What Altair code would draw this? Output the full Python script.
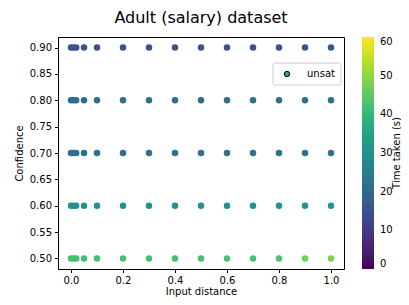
import altair as alt
import pandas as pd

xs = [0.0, 0.01, 0.02, 0.05, 0.1, 0.2, 0.3, 0.4, 0.5, 0.6, 0.7, 0.8, 0.9, 1.0]
confs = [0.5, 0.6, 0.7, 0.8, 0.9]
times = {
    0.9: [15, 15, 15, 15, 15, 15, 15, 15, 15, 15, 15, 15, 16, 16],
    0.8: [21, 21, 21, 21, 21, 21, 21, 21, 21, 21, 22, 22, 22, 22],
    0.7: [22, 22, 22, 22, 22, 22, 22, 22, 22, 22, 22, 23, 23, 23],
    0.6: [30, 30, 30, 30, 30, 30, 30, 30, 30, 31, 31, 31, 32, 32],
    0.5: [42, 42, 42, 42, 42, 42, 42, 42, 42, 43, 43, 43, 47, 48],
}

rows = []
for c in confs:
    for x, t in zip(xs, times[c]):
        rows.append({"dist": x, "conf": c, "time": t})
df = pd.DataFrame(rows)

FONT = "DejaVu Sans"
W, H = 286, 232

pts = alt.Chart(df).mark_circle(size=42, opacity=1).encode(
    x=alt.X("dist:Q", scale=alt.Scale(domain=[-0.05, 1.05], nice=False, zero=False),
            axis=alt.Axis(title="Input distance", values=[0, 0.2, 0.4, 0.6, 0.8, 1.0], format=".1f",
                          grid=False, tickColor="black", domainColor="black", labelColor="black",
                          titleColor="black", labelFontSize=10, titleFontSize=10, titleFontWeight="normal",
                          labelFont=FONT, titleFont=FONT, tickSize=3.5, labelPadding=3, titlePadding=1)),
    y=alt.Y("conf:Q", scale=alt.Scale(domain=[0.48, 0.92], nice=False, zero=False),
            axis=alt.Axis(title="Confidence", values=[0.5, 0.55, 0.6, 0.65, 0.7, 0.75, 0.8, 0.85, 0.9],
                          format=".2f", grid=False, tickColor="black", domainColor="black",
                          labelColor="black", titleColor="black", labelFontSize=10, titleFontSize=10,
                          titleFontWeight="normal", labelFont=FONT, titleFont=FONT, tickSize=3.5,
                          labelPadding=3, titlePadding=5)),
    color=alt.Color("time:Q", scale=alt.Scale(scheme="viridis", domain=[0, 60], nice=False),
                    legend=alt.Legend(title=None, orient="none", legendX=W + 18, legendY=0,
                                      direction="vertical", gradientLength=H, gradientThickness=12,
                                      values=[0, 10, 20, 30, 40, 50, 60], labelFontSize=10, labelFont=FONT,
                                      labelColor="black", gradientStrokeWidth=0, tickCount=7,
                                      labelOffset=6)),
)

leg_box = alt.Chart(pd.DataFrame({"a": [0]})).mark_rect(
    fill="white", stroke="#cccccc", strokeWidth=1, cornerRadius=2).encode(
    x=alt.value(W - 71), x2=alt.value(W - 3), y=alt.value(26), y2=alt.value(48))
leg_pt = alt.Chart(pd.DataFrame({"a": [0]})).mark_point(
    filled=True, fill="#21a585", stroke="black", strokeWidth=1, size=30, opacity=1).encode(
    x=alt.value(W - 57), y=alt.value(37))
leg_txt = alt.Chart(pd.DataFrame({"t": ["unsat"]})).mark_text(
    align="left", baseline="middle", fontSize=10, font=FONT, color="black").encode(
    x=alt.value(W - 37), y=alt.value(37), text="t:N")
cb_title = alt.Chart(pd.DataFrame({"t": ["Time taken (s)"]})).mark_text(
    align="center", baseline="middle", fontSize=10, font=FONT, color="black", angle=270).encode(
    x=alt.value(W + 53), y=alt.value(H / 2), text="t:N")

chart = alt.layer(pts, leg_box, leg_pt, leg_txt, cb_title).properties(
    width=W, height=H,
    title=alt.TitleParams("Adult (salary) dataset", fontSize=16, font=FONT, fontWeight="normal",
                          color="black", anchor="middle", offset=11),
    autosize=alt.AutoSizeParams(type="none"),
    padding={"left": 50, "top": 29, "right": 57, "bottom": 28},
).configure_view(stroke="black", strokeWidth=1)

chart.save("out.html", embed_options={"renderer": "svg", "actions": False})
